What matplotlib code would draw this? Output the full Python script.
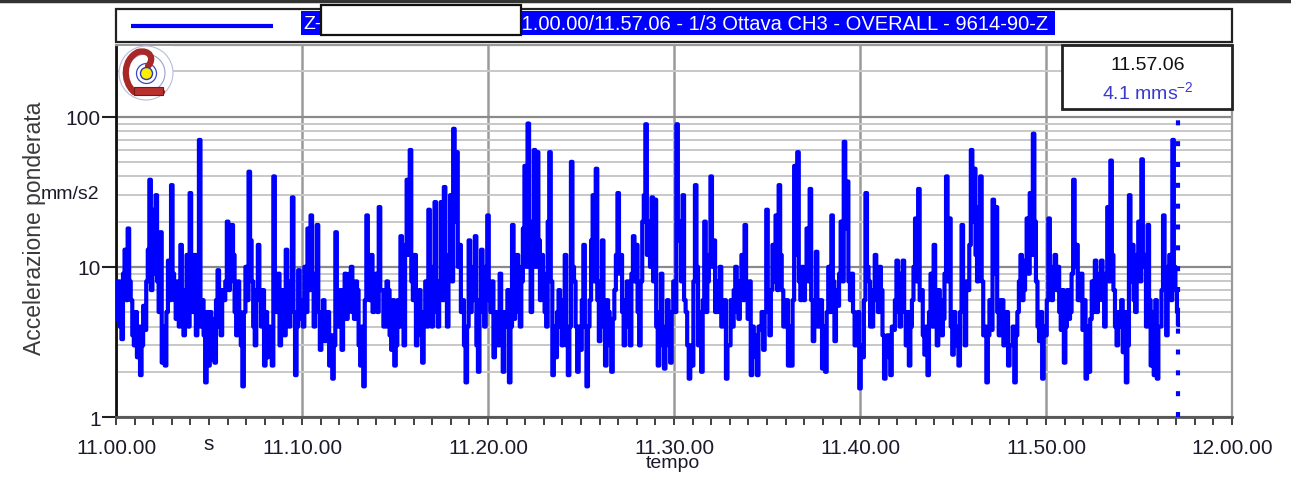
import numpy as np
import matplotlib
matplotlib.use("Agg")
import matplotlib.pyplot as plt
from matplotlib.patches import Rectangle, Circle, PathPatch
from matplotlib.path import Path
from matplotlib.ticker import FixedLocator, MultipleLocator, FuncFormatter, NullFormatter

# Weighted acceleration (mm/s2). Each 10-minute block holds two interleaved
# reading sets: "_a" on the 10 s marks, "_b" 5 s later.
acc_1100_a = [4.5, 8, 3.3, 13, 18, 6, 3, 2.5, 1.9, 5.5,
              8, 38, 9, 30, 5, 2.3, 2.2, 11, 35, 6,
              8, 14, 3.5, 12, 31, 5, 3.5, 70, 6, 1.7,
              2.2, 4.5, 2.3, 9.5, 3.5, 6, 20, 8, 12, 3.5,
              5, 1.6, 10, 43, 8, 3, 14, 4, 2.2, 2.5,
              3.5, 40, 5, 3, 7, 13, 4, 29, 1.9, 9.5]
acc_1100_b = [8, 4, 9, 6, 8, 3.5, 5, 4, 3, 3.8,
              13, 7, 24, 8, 17, 4, 5, 6, 9, 4.5,
              4, 7, 6, 4, 8, 12, 9, 4, 3.5, 5,
              5, 2.4, 6, 4, 7, 8, 7, 19, 5, 8,
              3, 5, 6, 15, 4, 7, 6, 7, 5, 4,
              2.2, 8, 9, 6, 3.5, 6, 8, 5, 4, 4.5]
acc_1110_a = [6, 10, 18, 22, 4, 19, 2.8, 6, 3.5, 2.2,
              1.8, 17, 4, 2.8, 9, 5, 10, 4.5, 7, 2.2,
              1.6, 22, 6, 5, 9, 25, 7, 4, 7, 2.8,
              2.2, 6, 16, 3, 38, 60, 6, 3, 7, 2.3,
              8, 24, 4, 27, 4, 27, 34, 4, 30, 83,
              58, 14, 6, 1.7, 15, 6, 16, 2, 13, 4]
acc_1110_b = [4, 5, 7, 8, 9, 5, 5, 3.2, 5, 3.5,
              3, 5, 7, 5, 4.5, 9, 5, 8, 3, 4,
              6, 8, 12, 8, 5, 7, 4, 8, 3.5, 6,
              3, 4, 6, 14, 12, 8, 12, 6, 3.5, 5,
              4, 6, 10, 5, 8, 6, 8, 12, 8, 20,
              10, 5, 3, 4, 5, 10, 3, 6, 5, 10]
acc_1120_a = [22, 5, 2.5, 5, 9, 2, 4, 1.7, 19, 5,
              10, 8, 47, 90, 5, 60, 58, 6, 9, 4,
              58, 1.9, 2.5, 7, 3, 12, 1.9, 50, 8, 2,
              2.8, 14, 1.6, 6, 30, 45, 3.2, 15, 2.2, 5,
              2, 7, 31, 12, 3, 8, 3, 16, 14, 3,
              20, 89, 20, 29, 28, 2.2, 9, 2.1, 6, 2.3]
acc_1120_b = [6, 8, 4, 3, 3.5, 5, 7, 4, 4.5, 12,
              4, 18, 10, 20, 12, 10, 15, 12, 5, 20,
              8, 4, 5, 4, 6, 3, 4, 10, 4, 4,
              6, 4, 4, 15, 8, 6, 8, 4, 6, 3,
              4.5, 12, 9, 5, 6, 4, 9, 8, 5, 8,
              30, 12, 10, 8, 4, 5, 3, 4, 3, 5]
acc_1130_a = [8, 89, 20, 30, 5, 1.8, 2.2, 35, 3, 2,
              20, 8, 40, 15, 5, 10, 4.5, 1.8, 3, 4,
              10, 4.5, 12, 19, 4.5, 1.9, 3.5, 1.9, 3.8, 2.8,
              24, 3.5, 14, 22, 35, 7, 4, 2.2, 2.2, 47,
              58, 6, 6, 18, 33, 3.2, 12.6, 4, 2.1, 2,
              10, 22, 3.2, 5.5, 20, 68, 37, 6, 5, 3]
acc_1130_b = [5, 15, 8, 6, 3, 3, 8, 10, 5, 6,
              5, 12, 10, 5, 8, 4, 6, 3, 6, 7,
              5, 8, 6, 7, 8, 4, 2.5, 4, 5, 5,
              6, 7, 8, 7, 12, 4, 6, 4, 6, 12,
              8, 10, 9, 8, 6, 6, 4, 6, 4, 5,
              5, 8, 7, 9, 8, 18, 8, 9, 3, 5]
acc_1140_a = [1.55, 2.5, 31, 8, 4, 12, 5, 7, 1.8, 3.5,
              1.9, 3.8, 11, 4, 11, 3, 2.2, 6, 21, 33,
              7, 2.6, 1.9, 9, 14, 3, 6, 4.5, 40, 21,
              2.6, 4, 2.2, 19, 3, 7, 60, 45, 8, 40,
              3.5, 1.7, 6, 28, 25, 3.5, 6, 3.8, 2.2, 3,
              1.7, 5, 12, 7, 21, 31, 77, 8, 3.2, 1.8]
acc_1140_b = [3, 6, 10, 4, 7, 6, 10, 3.5, 3, 2.5,
              4, 6, 5, 9, 5, 5, 4, 10, 8, 6,
              3.5, 4, 5, 4, 5, 7, 3.5, 9, 8, 4,
              5, 3, 5, 6, 8, 14, 20, 12, 25, 8,
              4, 3.5, 3.8, 9, 5, 6, 3, 5, 3, 4,
              3.5, 8, 6, 11, 9, 12, 20, 4, 5, 4]
acc_1150_a = [3.5, 21, 6, 12, 10, 3.8, 2.3, 7, 5, 38,
              14, 6, 3.8, 1.8, 2, 8, 11, 6, 11, 4,
              25, 51, 7, 3, 4, 2.7, 1.7, 30, 14, 5,
              20, 52, 12, 19, 2.2, 1.9, 1.8, 4, 22, 3.5,
              12, 70, 7]
acc_1150_b = [6, 8, 10, 7, 5, 7, 4, 4.5, 9, 10,
              6, 9, 6, 4, 4.5, 5, 5, 9, 6, 9,
              8, 12, 4, 5, 6, 5, 3, 8, 6, 12,
              8, 10, 4, 6, 5, 6, 4, 7, 9, 10,
              6, 10, 5]
block_start_min = [0, 10, 20, 30, 40, 50]
step_s = 10
cursor_min = 57.1          # 11.57.06
cursor_value = 4.1
cursor_label = "11.57.06"
legend_text = "11.00.00/11.57.06 - 1/3 Ottava CH3 - OVERALL - 9614-90-Z"
ytick_values = [1, 10, 100]

blocks = [(acc_1100_a, acc_1100_b), (acc_1110_a, acc_1110_b), (acc_1120_a, acc_1120_b),
          (acc_1130_a, acc_1130_b), (acc_1140_a, acc_1140_b), (acc_1150_a, acc_1150_b)]
t_parts, y_parts = [], []
for start, (a, b) in zip(block_start_min, blocks):
    ta = start + np.arange(len(a)) * step_s / 60.0
    tb = ta + step_s / 2 / 60.0
    t_parts.append(np.column_stack([ta, tb]).ravel())
    y_parts.append(np.column_stack([np.asarray(a, float), np.asarray(b, float)]).ravel())
t = np.concatenate(t_parts + [[cursor_min]])
y = np.concatenate(y_parts + [[cursor_value]])

plt.rcParams["font.family"] = ["Liberation Sans", "DejaVu Sans"]
plt.rcParams["mathtext.fontset"] = "custom"
plt.rcParams["mathtext.rm"] = "Liberation Sans"
plt.rcParams["mathtext.it"] = "Liberation Sans:italic"

W, H = 1291, 481
fig = plt.figure(figsize=(W / 100, H / 100), dpi=100)
L, R, T, B = 116, 1232, 46, 418
ax = fig.add_axes([L / W, 1 - B / H, (R - L) / W, (B - T) / H])

BLUE = "#0000ff"
ax.plot(t, y, color=BLUE, lw=3.0, drawstyle="steps-mid", zorder=3)
ax.plot([cursor_min, cursor_min], [1, 100], color=BLUE, lw=3,
        linestyle=(0, (1.2, 3.8)), zorder=3)

ax.set_yscale("log")
ax.set_ylim(1, 300)
ax.set_xlim(0, 60)

ax.yaxis.set_major_locator(FixedLocator(ytick_values))
ax.yaxis.set_major_formatter(FuncFormatter(lambda v, p: f"{v:g}"))
ax.yaxis.set_minor_locator(FixedLocator([m * d for d in (1, 10, 100) for m in range(2, 10) if m * d <= 300]))
ax.yaxis.set_minor_formatter(NullFormatter())
ax.xaxis.set_major_locator(MultipleLocator(10))
ax.xaxis.set_minor_locator(MultipleLocator(1))
ax.xaxis.set_major_formatter(FuncFormatter(
    lambda m, p: f"{11 + int(round(m)) // 60}.{int(round(m)) % 60:02d}.00"))

ax.grid(which="major", axis="y", color="#8a8a8a", lw=1.6, zorder=1)
ax.grid(which="minor", axis="y", color="#c8c8c8", lw=1.4, zorder=1)
ax.grid(which="major", axis="x", color="#9a9a9a", lw=1.8, zorder=1)
ax.set_axisbelow(True)

ax.tick_params(axis="x", which="both", direction="out", length=6, width=1.2,
               color="#202020", labelsize=15, pad=9, labelcolor="#1a1a2a")
ax.tick_params(axis="y", which="major", direction="out", length=10, width=1.5,
               color="#202020", labelsize=15, pad=1, labelcolor="#1a1a2a")
ax.tick_params(axis="y", which="minor", length=0)

ax.spines["left"].set_color("#101010")
ax.spines["left"].set_linewidth(2)
ax.spines["bottom"].set_color("#555555")
ax.spines["bottom"].set_linewidth(2)
for s in ("top", "right"):
    ax.spines[s].set_color("#9a9a9a")
    ax.spines[s].set_linewidth(1.6)

# Overlay in pixel coordinates for the annotation elements
ov = fig.add_axes([0, 0, 1, 1])
ov.set_xlim(0, W)
ov.set_ylim(H, 0)
ov.axis("off")
ov.patch.set_alpha(0)
ov.set_zorder(5)

ov.plot([0, W], [1.5, 1.5], color="#333333", lw=2.5)

# Legend strip
ov.add_patch(Rectangle((116, 10), 1116, 33, fc="white", ec="#222222", lw=1.6))
ov.plot([131, 273], [27, 27], color=BLUE, lw=3, solid_capstyle="butt")
ov.add_patch(Rectangle((301, 12), 754, 24, fc=BLUE, ec="none"))
ov.text(303, 24.5, "Z-", color="white", fontsize=14, va="center", ha="left")
lt = ov.text(512, 24.5, legend_text, color="white", fontsize=14, va="center", ha="left")
fig.canvas.draw()
bb = lt.get_window_extent()
lt.set_fontsize(14 * (1052 - 512) / bb.width)
ov.add_patch(Rectangle((321, 6), 200, 29.5, fc="white", ec="#111111", lw=1.6, zorder=6))

# Cursor readout
ov.add_patch(Rectangle((1062, 46), 170, 64, fc="white", ec="#222222", lw=2))
ov.text(1148, 65, cursor_label, color="#111111", fontsize=14, ha="center", va="center")
ov.text(1148, 92, f"{cursor_value:g} mms$^{{-2}}$", color="#3a3ad0", fontsize=14,
        ha="center", va="center")

# Logo
ov.add_patch(Rectangle((119, 47), 54, 54, fc="white", ec="none"))
ov.add_patch(Circle((146, 74), 27, fc="none", ec="#b8bcd8", lw=0.8))
ov.add_patch(Circle((146, 74), 19, fc="none", ec="#9aa0d0", lw=0.8))
ov.add_patch(Circle((146.5, 74.5), 10, fc="none", ec="#3a48c0", lw=0.9))
swirl = Path([(162, 93), (134, 93), (122, 82), (123, 60), (138, 53), (150, 50), (155, 60), (148, 67)],
             [Path.MOVETO, Path.LINETO, Path.CURVE4, Path.CURVE4, Path.CURVE4,
              Path.CURVE4, Path.CURVE4, Path.CURVE4])
ov.add_patch(PathPatch(swirl, fc="none", ec="#a82828", lw=4.5, capstyle="round"))
ov.add_patch(Rectangle((134, 88), 29, 8, fc="#b83030", ec="#7a1818", lw=0.8))
ov.add_patch(Circle((146.5, 74.5), 6, fc="#ffee00", ec="#2a3ab8", lw=1.0))

# Axis titles
ov.text(35, 228, "Accelerazione ponderata", rotation=90, fontsize=16.5,
        color="#3a3a3a", ha="center", va="center")
ov.text(70, 195, "mm/s2", fontsize=14, color="#1a1a2a", ha="center", va="center")
ov.text(209, 445, "s", fontsize=15, color="#1a1a2a", ha="center", va="center")
ov.text(673, 464, "tempo", fontsize=14, color="#1a1a2a", ha="center", va="center")

fig.savefig("out.png", dpi=100)
